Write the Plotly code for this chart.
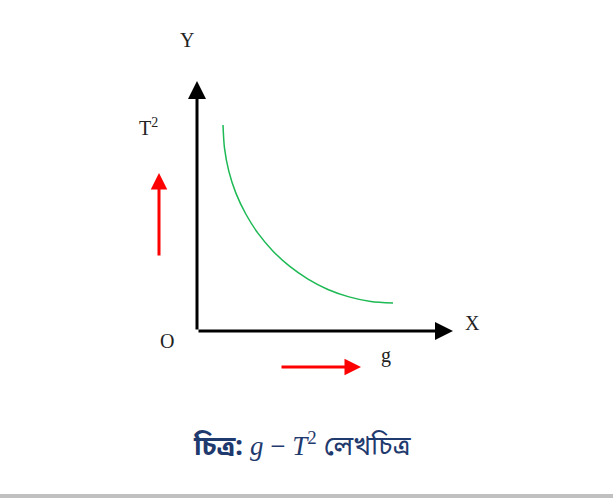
import plotly.graph_objects as go

# Curve values (arbitrary units, origin at O)
g_vals = [26, 27.5, 31.8, 38.9, 48.8, 61.1, 75.8, 92.5, 111, 130.9, 152, 173.8, 196]
t2_vals = [206, 182.8, 159.9, 137.9, 117, 97.6, 80.1, 64.8, 51.9, 41.5, 34.1, 29.5, 28]

# axis extents
x_axis_end = 256
y_axis_end = 250

# indicator arrows (start, end)
red_up_x = -38
red_up = [74, 158]
red_right_y = -36
red_right = [83, 164]

labels = {
    "Y": (-10, 291),
    "X": (275, 8),
    "O": (-30, -10),
    "T<sup>2</sup>": (-49, 204),
    "g": (189, -24),
}

caption = ("<b>চিত্র:</b> <span style='font-family:\"Liberation Serif\", serif'><i>g</i> − <i>T</i><sup>2</sup></span> লেখচিত্র")

fig = go.Figure()
fig.add_trace(go.Scatter(x=g_vals, y=t2_vals, mode="lines", line=dict(color="#1db954", width=1.5, shape="spline", smoothing=0.8),
                         hoverinfo="skip", showlegend=False))

ann = []
# axes arrows
ann.append(dict(x=0, y=y_axis_end, ax=0, ay=0, xref="x", yref="y", axref="x", ayref="y",
                showarrow=True, arrowhead=2, arrowsize=1.2, arrowwidth=3, arrowcolor="black", text=""))
ann.append(dict(x=x_axis_end, y=0, ax=0, ay=0, xref="x", yref="y", axref="x", ayref="y",
                showarrow=True, arrowhead=2, arrowsize=1.2, arrowwidth=3, arrowcolor="black", text=""))
# red arrows
ann.append(dict(x=red_up_x, y=red_up[1], ax=red_up_x, ay=red_up[0], xref="x", yref="y", axref="x", ayref="y",
                showarrow=True, arrowhead=2, arrowsize=1.1, arrowwidth=3, arrowcolor="red", text=""))
ann.append(dict(x=red_right[1], y=red_right_y, ax=red_right[0], ay=red_right_y, xref="x", yref="y", axref="x", ayref="y",
                showarrow=True, arrowhead=2, arrowsize=1.1, arrowwidth=3, arrowcolor="red", text=""))
for t, (x, y) in labels.items():
    ann.append(dict(x=x, y=y, xref="x", yref="y", text=t, showarrow=False,
                    font=dict(family="Liberation Serif", size=20, color="#222")))
ann.append(dict(x=105, y=331 - 446, xref="x", yref="y", text=caption, showarrow=False,
                yanchor="middle", font=dict(family="Noto Sans Bengali, Noto Serif Bengali, Lohit Bengali, FreeSerif, serif", size=27, color="#1f3a6e")))

fig.update_layout(
    width=613, height=498,
    margin=dict(l=0, r=0, t=0, b=0),
    paper_bgcolor="white", plot_bgcolor="white",
    xaxis=dict(range=[-197, 416], visible=False, fixedrange=True),
    yaxis=dict(range=[-167, 331], visible=False, fixedrange=True),
    annotations=ann,
    shapes=[dict(type="rect", xref="paper", yref="paper", x0=0, x1=1, y0=0, y1=4/498,
                 fillcolor="#c0c0c0", line=dict(width=0))],
)
fig.write_html("out.html", config={"displayModeBar": False}, post_script="document.body.style.margin='0';")
